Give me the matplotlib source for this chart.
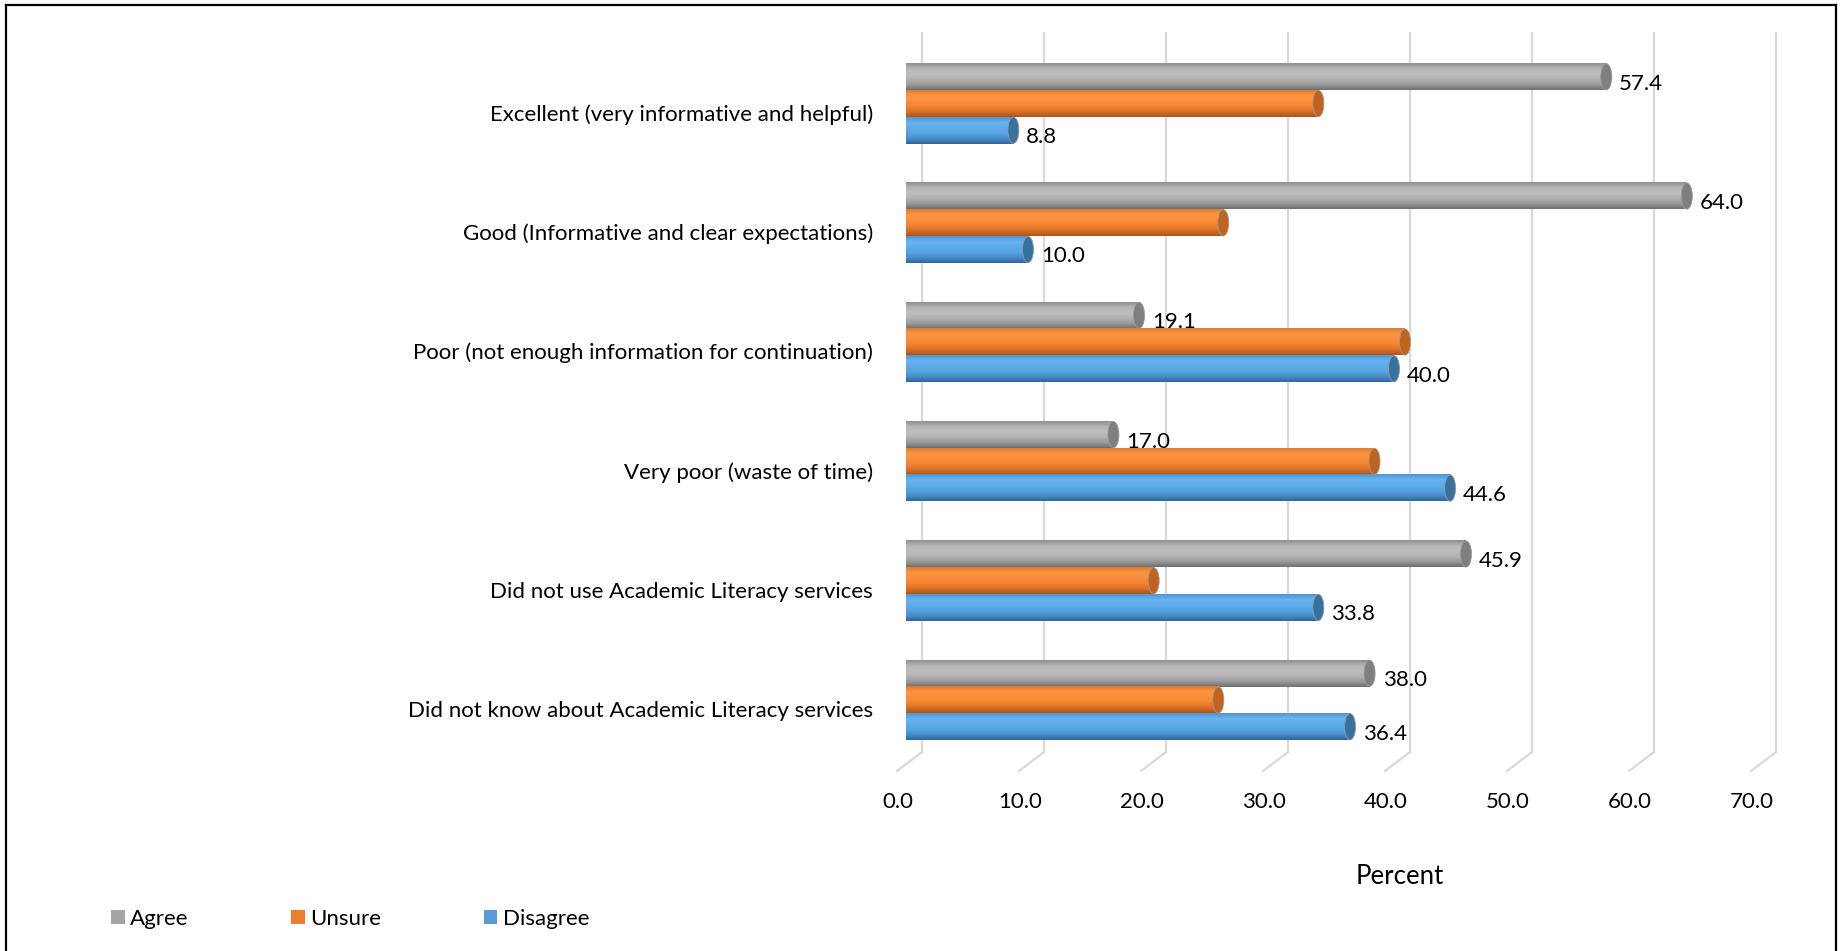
import numpy as np
import matplotlib.pyplot as plt
from matplotlib.colors import LinearSegmentedColormap
from matplotlib.patches import Ellipse, Patch
from matplotlib.lines import Line2D
from matplotlib.transforms import offset_copy, blended_transform_factory

# datos
categorias = [
    "Excellent (very informative and helpful)",
    "Good (Informative and clear expectations)",
    "Poor (not enough information for continuation)",
    "Very poor (waste of time)",
    "Did not use Academic Literacy services",
    "Did not know about Academic Literacy services",
]
agree = [57.4, 64.0, 19.1, 17.0, 45.9, 38.0]
unsure = [33.8, 26.0, 40.9, 38.4, 20.3, 25.6]
disagree = [8.8, 10.0, 40.0, 44.6, 33.8, 36.4]
series = ["Agree", "Unsure", "Disagree"]
ticks = [0, 10, 20, 30, 40, 50, 60, 70]

colores_legenda = {"Agree": "#a5a5a5", "Unsure": "#ed7d31", "Disagree": "#5b9bd5"}
# gradientes de arriba hacia abajo para simular cilindros
gradientes = {
    "Agree": ["#8f8f8f", "#b4b4b4", "#bfbfbf", "#b2b2b2", "#9a9a9a", "#6e6e6e"],
    "Unsure": ["#e07a2c", "#fb9645", "#fd8f3a", "#f38532", "#d9702a", "#a9561a"],
    "Disagree": ["#4d95d2", "#68b3ef", "#5eadeb", "#56a4e2", "#4a8dc8", "#2e6598"],
}
tapas = {"Agree": "#7f7f7f", "Unsure": "#c0631f", "Disagree": "#36729f"}

plt.rcParams["font.family"] = ["Lato", "DejaVu Sans"]

W, H = 1845, 951
fig = plt.figure(figsize=(W / 100, H / 100), dpi=100)

# ejes en pixeles: x 906..1760 para 0..70, y 33..752
x0, x1 = 906, 1760
y_top, y_bot = 33, 752
ax = fig.add_axes([x0 / W, 1 - y_bot / H, (x1 - x0) / W, (y_bot - y_top) / H])

paso = 119.3
centro0 = 103.5
ylim_top = (y_top - centro0) / paso
ylim_bot = (y_bot - centro0) / paso
alto = 26.7 / paso
px_x = (x1 - x0) / 70.0

# lineas de la cuadricula (pared del fondo en 3D)
blend = blended_transform_factory(ax.transData, ax.transAxes)
for t in ticks:
    tr = offset_copy(blend, fig=fig, x=16, y=0, units="dots")
    ax.plot([t, t], [0, 1], color="#d9d9d9", lw=1.6, transform=tr, clip_on=False, zorder=0)
    ax.annotate("", xy=(t, 0), xycoords=tr, xytext=(-25, -19), textcoords="offset pixels",
                arrowprops=dict(arrowstyle="-", color="#d9d9d9", lw=1.6, shrinkA=0, shrinkB=0),
                annotation_clip=False)
    ax.text(t, 0, f"{t:.1f}", transform=offset_copy(blend, fig=fig, x=-8, y=-50, units="dots"),
            ha="center", va="center", fontsize=16, color="#000000")

grad = np.linspace(0, 1, 128).reshape(-1, 1)
valores = {"Agree": agree, "Unsure": unsure, "Disagree": disagree}
for j, s in enumerate(series):
    cmap = LinearSegmentedColormap.from_list(s, gradientes[s])
    for i, v in enumerate(valores[s]):
        yc = i + (j - 1) * alto
        ax.imshow(grad, cmap=cmap, aspect="auto", origin="upper",
                  extent=(0, v, yc + alto / 2, yc - alto / 2), zorder=2, interpolation="bilinear")
        ax.add_patch(Ellipse((v, yc), width=11 / px_x, height=alto * 0.98,
                             facecolor=tapas[s], edgecolor="#9a9a9a", lw=0.6, zorder=3))
        ax.add_patch(Ellipse((0, yc), width=6 / px_x, height=alto * 0.98,
                             facecolor=gradientes[s][2], edgecolor="none", zorder=1.9))
        if s != "Unsure":
            ax.text(v, yc, f"{v:.1f}",
                    transform=offset_copy(ax.transData, fig=fig, x=13, y=-7, units="dots"),
                    ha="left", va="center", fontsize=16, color="#000000", zorder=4)

for i, c in enumerate(categorias):
    ax.text(0, i, c, transform=offset_copy(ax.transData, fig=fig, x=-33, y=-11, units="dots"),
            ha="right", va="center", fontsize=16, color="#000000")

ax.set_xlim(0, 70)
ax.set_ylim(ylim_bot, ylim_top)
ax.axis("off")

fig.text(1400 / W, 1 - 876 / H, "Percent", ha="center", va="center", fontsize=18.5)

handles = [Patch(facecolor=colores_legenda[s], edgecolor="none") for s in series]
fig.legend(handles, series, loc="center left", bbox_to_anchor=(111 / W, 1 - 919 / H),
           ncol=3, frameon=False, fontsize=16, handlelength=0.62, handleheight=0.62,
           handletextpad=0.25, columnspacing=4.6, borderpad=0, borderaxespad=0)

# marco exterior
fig.add_artist(Line2D([6 / W, 6 / W], [0, 1 - 5 / H], color="black", lw=1.6))
fig.add_artist(Line2D([6 / W, 1836 / W], [1 - 5 / H, 1 - 5 / H], color="black", lw=1.6))
fig.add_artist(Line2D([1836 / W, 1836 / W], [0, 1 - 5 / H], color="black", lw=1.6))

fig.savefig("out.png", dpi=100, facecolor="white")
